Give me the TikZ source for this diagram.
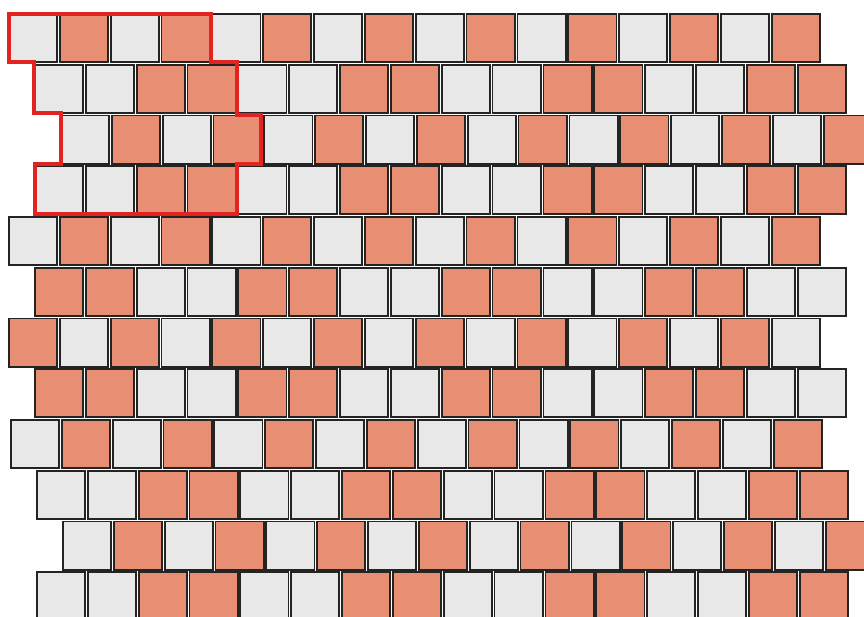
\documentclass[tikz,border=0pt]{standalone}
\begin{document}
\begin{tikzpicture}[x=1pt,y=-1pt,
  tile/.style={draw=tileLine, line width=1.8pt},
  outline/.style={draw=outlineRed, line width=4pt, line join=miter}]
\definecolor{tileG}{HTML}{E8E8E8}
\definecolor{tileO}{HTML}{E88E72}
\definecolor{tileLine}{HTML}{242424}
\definecolor{outlineRed}{HTML}{E2231F}
\useasboundingbox (0,0) rectangle (864,616);
\clip (0,0) rectangle (864,616);
\foreach \r/\x/\p in {0/8/0, 1/34/1, 2/60/0, 3/34/1, 4/8/0, 5/34/2, 6/8/3, 7/34/2, 8/10/0, 9/36/1, 10/62/0, 11/36/1}{
  \pgfmathsetmacro\y{13+\r*50.75}
  \foreach \i in {0,...,15}{
    \pgfmathtruncatemacro\isO{\p==0 ? mod(\i,2) : (\p==1 ? (mod(\i,4)>=2) : (\p==2 ? (mod(\i,4)<2) : 1-mod(\i,2)))}
    \ifnum\isO=1 \def\fc{tileO}\else\def\fc{tileG}\fi
    \draw[tile, fill=\fc] ({\x+\i*50.85+0.9},{\y+0.9}) rectangle ++(48.2,48.2);
  }
}
\draw[outline] (9,13.5) -- (210.8,13.5) -- (210.8,62) -- (236.6,62) -- (236.6,115) -- (261,115) -- (261,164) -- (236.6,164) -- (236.6,214) -- (35,214) -- (35,164) -- (60.5,164) -- (60.5,113) -- (34,113) -- (34,62) -- (9,62) -- cycle;
\end{tikzpicture}
\end{document}
